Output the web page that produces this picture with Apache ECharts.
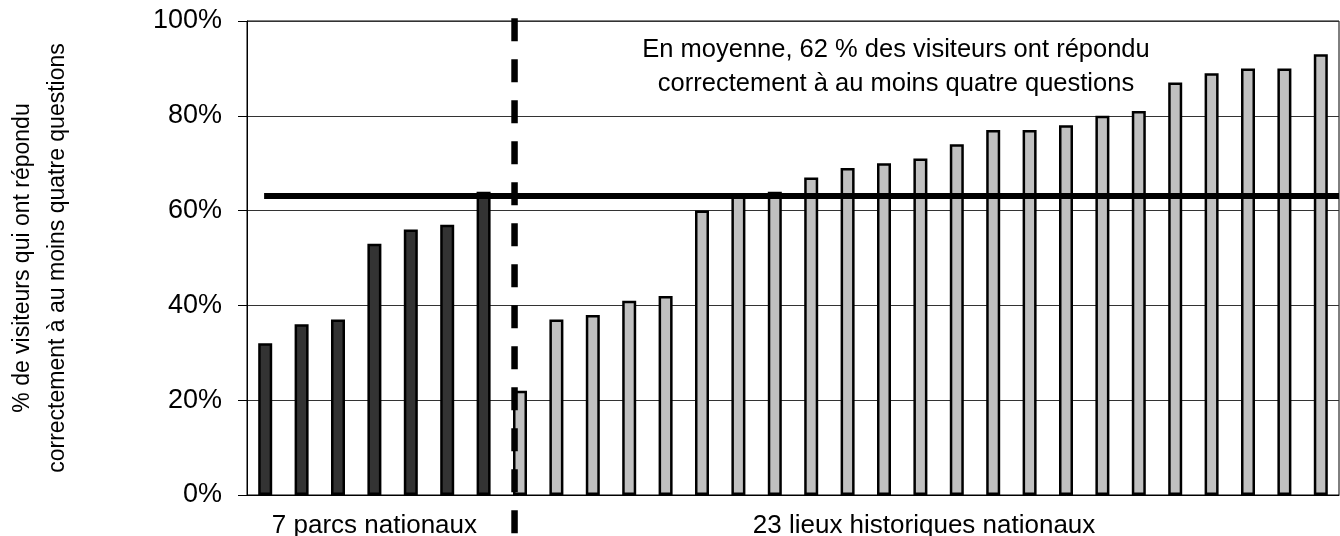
<!DOCTYPE html>
<html><head><meta charset="utf-8">
<script src="https://cdn.jsdelivr.net/npm/echarts@6/dist/echarts.min.js"></script>
<style>html,body{margin:0;padding:0;background:#fff}#c{width:1340px;height:536px}</style>
</head><body><div id="c"></div>
<script>
// ---- data ----
const parcsValues = [32, 36, 37, 53, 56, 57, 64];
const lieuxValues = [22, 37, 38, 41, 42, 60, 63, 64, 67, 69, 70, 71, 74, 77, 77, 78, 80, 81, 87, 89, 90, 90, 93];
const yTickValues = [0, 20, 40, 60, 80, 100];
const averageValue = 63.1;
const averageText = ['En moyenne, 62 % des visiteurs ont répondu', 'correctement à au moins quatre questions'];
const yAxisTitle = ['% de visiteurs qui ont répondu', 'correctement à au moins quatre questions'];
const groupLabels = ['7 parcs nationaux', '23 lieux historiques nationaux'];
const groupCenters = [3.5, 18.6];    // in category units (0..30)
const groupLabelY = -6.4;            // below axis, in %
const dividerX = 7.35;               // in category units
const dividerRange = [100.6, -9];
const averageRange = [0.47, 30];

const nCat = parcsValues.length + lieuxValues.length;
const categories = Array.from({length: nCat}, (_, i) => 'c' + (i + 1));
const darkData = categories.map((_, i) => i < parcsValues.length ? parcsValues[i] : '-');
const grayData = categories.map((_, i) => i >= parcsValues.length ? lieuxValues[i - parcsValues.length] : '-');

const font = 'Liberation Sans, Arial, sans-serif';
const chart = echarts.init(document.getElementById('c'), null, {renderer: 'canvas'});
chart.setOption({
  animation: false,
  backgroundColor: '#fff',
  grid: {left: 247, right: 1, top: 21, bottom: 41, show: true, borderColor: '#000', borderWidth: 1,
         backgroundColor: 'transparent', containLabel: false, outerBoundsMode: 'none'},
  xAxis: [
    {type: 'category', data: categories, boundaryGap: true,
     axisLine: {show: true, lineStyle: {color: '#000', width: 1}},
     axisTick: {show: false}, axisLabel: {show: false}, splitLine: {show: false}},
    {type: 'value', min: 0, max: nCat, show: false}
  ],
  yAxis: {
    type: 'value', min: 0, max: 100, interval: 20,
    name: yAxisTitle.join('\n'), nameLocation: 'middle', nameRotate: 90, nameGap: 172,
    nameTextStyle: {fontFamily: font, fontSize: 23, color: '#000', lineHeight: 35},
    axisLine: {show: true, lineStyle: {color: '#000', width: 1}},
    axisTick: {show: true, inside: false, length: 9, lineStyle: {color: '#000'}},
    axisLabel: {margin: 25, fontFamily: font, fontSize: 27, color: '#000', formatter: v => yTickValues.includes(v) ? v + '%' : ''},
    splitLine: {show: true, lineStyle: {color: '#333', width: 1}}
  },
  series: [
    {type: 'bar', data: darkData, barWidth: 14, barGap: '-100%',
     itemStyle: {color: '#333333', borderColor: '#000', borderWidth: 2.5}},
    {type: 'bar', data: grayData, barWidth: 14, barGap: '-100%',
     itemStyle: {color: '#C0C0C0', borderColor: '#000', borderWidth: 2.5}},
    {type: 'line', xAxisIndex: 1, clip: false, symbol: 'none', z: 5,
     data: [[averageRange[0], averageValue], [averageRange[1], averageValue]],
     lineStyle: {color: '#000', width: 6, cap: 'butt'}},
    {type: 'line', xAxisIndex: 1, clip: false, symbol: 'none', z: 6,
     data: [[dividerX, dividerRange[0]], [dividerX, dividerRange[1]]],
     lineStyle: {color: '#000', width: 6.5, type: [23, 18], cap: 'butt'}},
    {type: 'scatter', xAxisIndex: 1, clip: false, symbolSize: 1, itemStyle: {color: 'rgba(0,0,0,0)', opacity: 1},
     data: groupCenters.map((x, i) => [x, groupLabelY, groupLabels[i]]),
     label: {show: true, position: 'inside', formatter: p => p.value[2], fontFamily: font, fontSize: 26, color: '#000', opacity: 1}}
  ],
  graphic: [{
    type: 'text', left: 896 - 270, top: 33,
    style: {text: averageText.join('\n'), font: '25.5px ' + font, fill: '#000', textAlign: 'center', lineHeight: 34, width: 540}
  }]
});
</script></body></html>
